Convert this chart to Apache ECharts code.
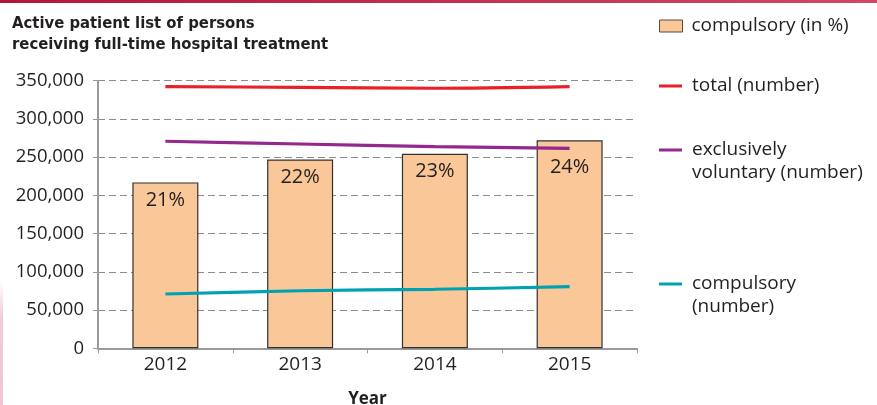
<!DOCTYPE html>
<html>
<head>
<meta charset="utf-8">
<script src="https://cdn.jsdelivr.net/npm/echarts@6/dist/echarts.min.js"></script>
<style>
html,body{margin:0;padding:0;background:#fff;overflow:hidden;}
#chart{width:877px;height:405px;}
</style>
</head>
<body>
<div id="chart"></div>
<script>
// ---- data ----
const years = ['2012', '2013', '2014', '2015'];
const barHeights = [217000, 247000, 254500, 272000];   // bar "compulsory (in %)" heights as drawn
const pctLabels = [21, 22, 23, 24];                     // percent labels on bars
const totalNumber = [342200, 341400, 340100, 342200];
const voluntaryNumber = [270800, 267200, 263700, 261600];
const compulsoryNumber = [71000, 75300, 77200, 80600];
const yTicks = { min: 0, max: 350000, interval: 50000 };

const FONT = '"Open Sans", "Noto Sans", sans-serif';
const COND = '"Liberation Sans Narrow", "DejaVu Sans Condensed", "Open Sans", sans-serif';
const C_BAR = '#FAC898', C_RED = '#E8202A', C_PURPLE = '#93288F', C_TEAL = '#00A2B2';

const chart = echarts.init(document.getElementById('chart'), null, { renderer: 'canvas', width: 877, height: 405 });

const barData = barHeights.map((v, i) => {
  const item = { value: v, pct: pctLabels[i] };
  if (i === 3) item.label = { distance: 17 };
  return item;
});

const LH = 23;
function lineLegend(name, iconY, text, color) {
  const lines = text.split('\n').length;
  const shown = lines > 1 ? ' \n' + text : text;
  const boxH = (lines > 1 ? 3 : 1) * LH;
  return {
    show: true, left: 659, top: iconY - boxH / 2, padding: 0, orient: 'vertical',
    data: [name], icon: 'rect', itemWidth: 23, itemHeight: 3, itemGap: 0,
    selectedMode: false,
    itemStyle: { color: color, borderWidth: 0 },
    formatter: () => shown,
    textStyle: { fontFamily: FONT, fontSize: 19, color: '#231F20', lineHeight: LH, padding: [0, 0, 0, 5] }
  };
}

const option = {
  backgroundColor: '#ffffff',
  animation: false,
  title: {
    text: 'Active patient list of persons\nreceiving full-time hospital treatment',
    left: 12, top: 13.5, padding: 0,
    textStyle: { fontFamily: COND, fontWeight: 'bold', fontSize: 16.5, lineHeight: 21, color: '#231F20' }
  },
  legend: [
    {
      show: true, left: 659, top: 26 - LH / 2, padding: 0, data: ['compulsory (in %)'],
      icon: 'rect', itemWidth: 23, itemHeight: 12, selectedMode: false,
      itemStyle: { color: C_BAR, borderColor: '#5a4a40', borderWidth: 1 },
      textStyle: { fontFamily: FONT, fontSize: 19, color: '#231F20', lineHeight: LH, padding: [0, 0, 0, 4] }
    },
    lineLegend('total (number)', 86, 'total (number)', C_RED),
    lineLegend('exclusively voluntary (number)', 150, 'exclusively\nvoluntary (number)', C_PURPLE),
    lineLegend('compulsory (number)', 284, 'compulsory\n(number)', C_TEAL)
  ],
  grid: { left: 98, width: 539, top: 80.7, height: 267.6, containLabel: false, outerBoundsMode: 'none' },
  xAxis: {
    type: 'category', data: years,
    name: 'Year', nameLocation: 'middle', nameGap: 42,
    nameTextStyle: { fontFamily: FONT, fontWeight: 'bold', fontSize: 17, color: '#231F20' },
    axisLine: { lineStyle: { color: '#9a9a9a', width: 2 } },
    axisTick: { show: true, length: 5, lineStyle: { color: '#9a9a9a', width: 1 } },
    axisLabel: { fontFamily: FONT, fontSize: 19, color: '#231F20', margin: 7 },
    splitLine: { show: false }
  },
  yAxis: {
    type: 'value', min: yTicks.min, max: yTicks.max, interval: yTicks.interval,
    axisLine: { show: true, lineStyle: { color: '#9a9a9a', width: 2 } },
    axisTick: { show: true, length: 5, lineStyle: { color: '#9a9a9a', width: 1 } },
    axisLabel: { fontFamily: FONT, fontSize: 18.5, color: '#231F20', margin: 14,
                 formatter: v => v.toLocaleString('en-US') },
    splitLine: { show: true, lineStyle: { color: '#8c8c8c', type: [7, 4], width: 1 } }
  },
  graphic: [
    { type: 'rect', left: 0, top: 0, z: 100,
      shape: { width: 877, height: 3 },
      style: { fill: new echarts.graphic.LinearGradient(0, 0, 1, 0, [
        { offset: 0, color: '#B2173A' }, { offset: 1, color: '#CF4A64' }]) } },
    { type: 'rect', left: 0, top: 280, z: 100,
      shape: { width: 3, height: 125 },
      style: { fill: new echarts.graphic.LinearGradient(0, 0, 0, 1, [
        { offset: 0, color: 'rgba(240,190,205,0)' }, { offset: 0.3, color: 'rgba(240,190,205,0.8)' },
        { offset: 1, color: 'rgba(240,190,205,0.9)' }]) } }
  ],
  series: [
    {
      name: 'compulsory (in %)', type: 'bar', data: barData, barWidth: 66,
      itemStyle: { color: C_BAR, borderColor: '#333030', borderWidth: 1.2 },
      label: { show: true, position: 'insideTop', distance: 8,
               fontFamily: FONT, fontSize: 20, color: '#231F20',
               formatter: p => p.data.pct + '%' },
      z: 2
    },
    {
      name: 'total (number)', type: 'line', data: totalNumber, smooth: 0.3,
      symbol: 'none', lineStyle: { color: C_RED, width: 3.2 }, itemStyle: { color: C_RED }, z: 5
    },
    {
      name: 'exclusively voluntary (number)', type: 'line', data: voluntaryNumber, smooth: 0.3,
      symbol: 'none', lineStyle: { color: C_PURPLE, width: 3.2 }, itemStyle: { color: C_PURPLE }, z: 5
    },
    {
      name: 'compulsory (number)', type: 'line', data: compulsoryNumber, smooth: 0.3,
      symbol: 'none', lineStyle: { color: C_TEAL, width: 3.2 }, itemStyle: { color: C_TEAL }, z: 5
    }
  ]
};
chart.setOption(option);
</script>
</body>
</html>
